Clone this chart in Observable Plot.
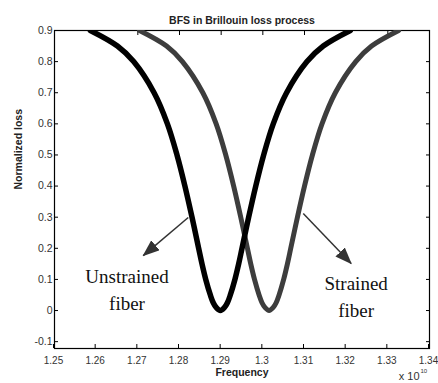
<!DOCTYPE html>
<html>
<head>
<meta charset="utf-8">
<script src="https://cdn.jsdelivr.net/npm/d3@7"></script>
<script src="https://cdn.jsdelivr.net/npm/@observablehq/plot@0.6"></script>
<style>
  html, body { margin: 0; padding: 0; background: #fff; }
  #chart { width: 438px; height: 383px; }
</style>
</head>
<body>
<div id="chart"></div>
<script>
// ---- data ----
const title = "BFS in Brillouin loss process";
const xLabel = "Frequency";
const yLabel = "Normalized loss";
const xTicks = [1.25, 1.26, 1.27, 1.28, 1.29, 1.30, 1.31, 1.32, 1.33, 1.34];
const yTicks = [-0.1, 0, 0.1, 0.2, 0.3, 0.4, 0.5, 0.6, 0.7, 0.8, 0.9];

const freqUnstrained = [1.2586, 1.2651, 1.2690, 1.2739, 1.2771, 1.2794, 1.2813, 1.2830, 1.2846, 1.2854, 1.2863, 1.2874, 1.2881, 1.2888, 1.2898,
                        1.2908, 1.2915, 1.2922, 1.2933, 1.2942, 1.2950, 1.2966, 1.2983, 1.3002, 1.3025, 1.3057, 1.3106, 1.3145, 1.3210];
const lossUnstrained = [0.9, 0.85, 0.8, 0.7, 0.6, 0.5, 0.4, 0.3, 0.2, 0.15, 0.1, 0.05, 0.025, 0.01, 0,
                        0.01, 0.025, 0.05, 0.1, 0.15, 0.2, 0.3, 0.4, 0.5, 0.6, 0.7, 0.8, 0.85, 0.9];

const freqStrained = [1.2704, 1.2769, 1.2807, 1.2856, 1.2888, 1.2911, 1.2930, 1.2947, 1.2963, 1.2971, 1.2980, 1.2991, 1.2998, 1.3005, 1.3015,
                      1.3025, 1.3032, 1.3039, 1.3050, 1.3059, 1.3067, 1.3083, 1.3100, 1.3119, 1.3142, 1.3174, 1.3223, 1.3261, 1.3326];
const lossStrained = [0.9, 0.85, 0.8, 0.7, 0.6, 0.5, 0.4, 0.3, 0.2, 0.15, 0.1, 0.05, 0.025, 0.01, 0,
                      0.01, 0.025, 0.05, 0.1, 0.15, 0.2, 0.3, 0.4, 0.5, 0.6, 0.7, 0.8, 0.85, 0.9];

const annotationLabels = ["Unstrained\nfiber", "Strained\nfiber"];
const annotationX = [1.2674, 1.3224];
const annotationY = [0.074, 0.050];
const arrowX1 = [1.2821, 1.3097];
const arrowY1 = [0.299, 0.312];
const arrowX2 = [1.2713, 1.3212];
const arrowY2 = [0.1765, 0.151];

// ---- tables ----
const unstrained = freqUnstrained.map((f, i) => ({f, loss: lossUnstrained[i]}));
const strained = freqStrained.map((f, i) => ({f, loss: lossStrained[i]}));
const annotations = annotationLabels.map((t, i) => ({t, x: annotationX[i], y: annotationY[i]}));
const arrows = arrowX1.map((x1, i) => ({x1, y1: arrowY1[i], x2: arrowX2[i], y2: arrowY2[i]}));

function filledArrow(color, context) {
  const m = d3.create("svg:marker")
    .attr("viewBox", "-16 -6.5 17 13")
    .attr("markerWidth", 17)
    .attr("markerHeight", 13)
    .attr("markerUnits", "userSpaceOnUse")
    .attr("refX", 0)
    .attr("refY", 0)
    .attr("orient", "auto")
    .attr("fill", color)
    .attr("stroke", "none");
  m.append("path").attr("d", "M-16,-6.5L1,0L-16,6.5Z");
  return m.node();
}

const fmtX = d => String(+d.toFixed(2));
const fmtY = d => String(+d.toFixed(1));

const chart = Plot.plot({
  width: 438,
  height: 383,
  marginLeft: 54,
  marginRight: 9,
  marginTop: 30,
  marginBottom: 35,
  style: {fontFamily: "'Liberation Sans', Arial, sans-serif", fontSize: "10.5px", color: "#333", background: "#fff"},
  x: {domain: [1.25, 1.34]},
  y: {domain: [-0.122, 0.9]},
  marks: [
    Plot.axisX({anchor: "bottom", ticks: xTicks, tickFormat: fmtX, tickSize: -4, tickPadding: 12, label: null, stroke: "#000", fontSize: 10, dx: -1}),
    Plot.axisX({anchor: "top", ticks: xTicks, tickFormat: () => "", tickSize: -4, label: null, stroke: "#000"}),
    Plot.axisY({anchor: "left", ticks: yTicks, tickFormat: fmtY, tickSize: -4, tickPadding: 6, label: null, stroke: "#000"}),
    Plot.axisY({anchor: "right", ticks: yTicks, tickFormat: () => "", tickSize: -4, label: null, stroke: "#000"}),
    Plot.frame({stroke: "#000", strokeWidth: 1.2}),
    Plot.line(strained, {x: "f", y: "loss", stroke: "#3d3d3d", strokeWidth: 5, curve: "catmull-rom", clip: true}),
    Plot.line(unstrained, {x: "f", y: "loss", stroke: "#000", strokeWidth: 5.5, curve: "catmull-rom", clip: true}),
    Plot.link(arrows, {x1: "x1", y1: "y1", x2: "x2", y2: "y2", stroke: "#333", strokeWidth: 1.5, markerEnd: filledArrow}),
    Plot.text(annotations, {x: "x", y: "y", text: "t", fontFamily: "'Liberation Serif', 'Times New Roman', serif", fontSize: 19, lineHeight: 1.42, fill: "#111", textAnchor: "middle"}),
    Plot.text([title], {frameAnchor: "top", dy: -14, fontSize: 10.5, fontWeight: "bold", fill: "#222"}),
    Plot.text([xLabel], {frameAnchor: "bottom", dy: 27, fontSize: 10.5, fontWeight: "bold", fill: "#222"}),
    Plot.text([yLabel], {frameAnchor: "left", dx: -36, rotate: -90, fontSize: 10.5, fontWeight: "bold", fill: "#222"}),
    Plot.text(["x 10"], {frameAnchor: "bottom-right", dx: -10, dy: 31, textAnchor: "end", fontSize: 11, fill: "#333"}),
    Plot.text(["10"], {frameAnchor: "bottom-right", dx: -9, dy: 24, textAnchor: "start", fontSize: 6, fill: "#333"})
  ]
});
document.getElementById("chart").appendChild(chart);
</script>
</body>
</html>
